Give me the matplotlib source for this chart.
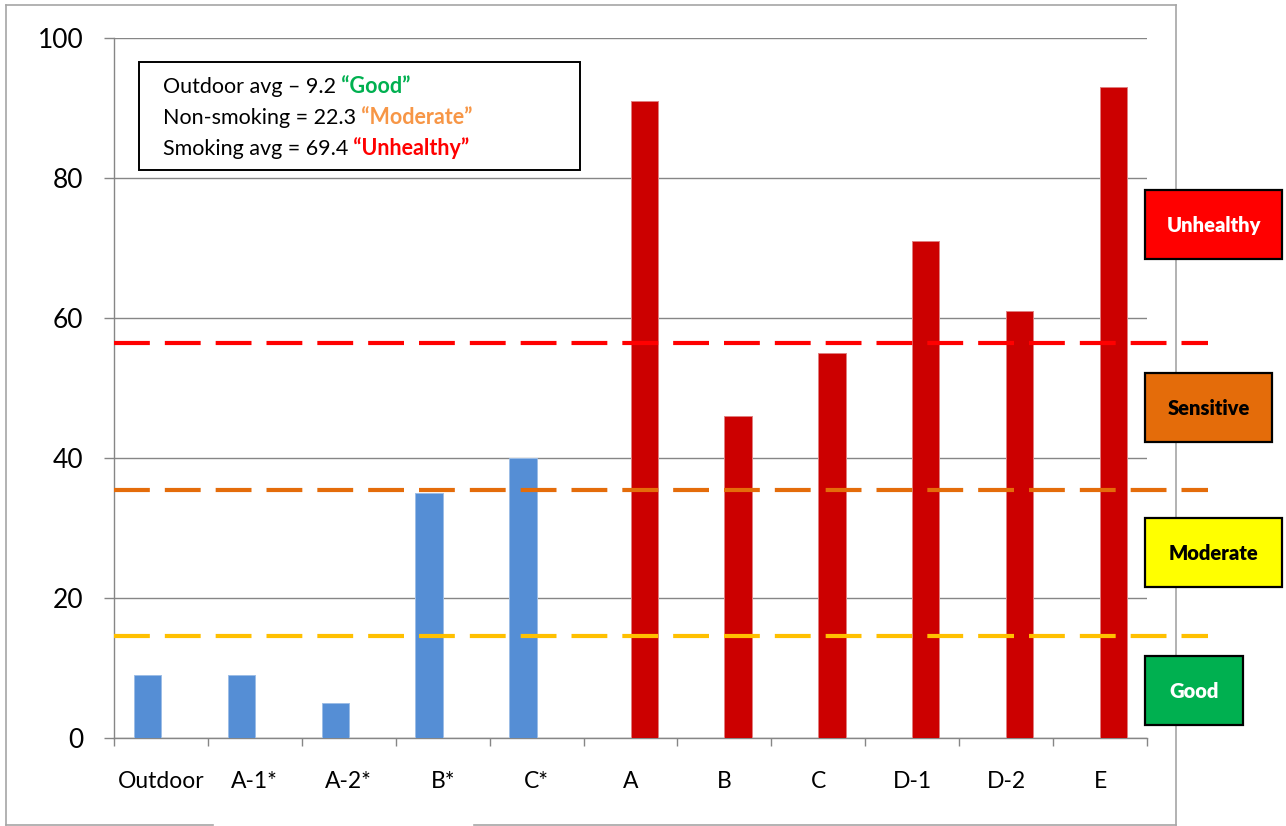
import matplotlib
matplotlib.use("Agg")
import matplotlib.pyplot as plt
from matplotlib.patches import Rectangle
from matplotlib.lines import Line2D
import numpy as np

plt.rcParams['font.family'] = ['Lato', 'DejaVu Sans']

# data
categories = ['Outdoor', 'A-1*', 'A-2*', 'B*', 'C*', 'A', 'B', 'C', 'D-1', 'D-2', 'E']
nonsmoking_cats = categories[:5]
nonsmoking_vals = [9, 9, 5, 35, 40]
smoking_cats = categories[5:]
smoking_vals = [91, 46, 55, 71, 61, 93]

# threshold lines (value, colour)
thresholds = [56.5, 35.4, 14.6]
threshold_colors = ['#FF0000', '#E46C0A', '#FFC000']

# category boxes on the right
level_names = ['Unhealthy', 'Sensitive', 'Moderate', 'Good']
level_colors = ['#FF0000', '#E46C0A', '#FFFF00', '#00B050']
level_text_colors = ['white', 'black', 'black', 'white']

# summary box lines: (plain text, highlighted text, highlight colour)
summary = [
    ('Outdoor avg \u2013 9.2', '\u201cGood\u201d', '#00B050'),
    ('Non-smoking = 22.3', '\u201cModerate\u201d', '#F79646'),
    ('Smoking avg = 69.4', '\u201cUnhealthy\u201d', '#FF0000'),
]

W, H = 1286, 826
fig = plt.figure(figsize=(W / 100, H / 100), dpi=100)


def fx(px):
    return px / W


def fy(py):
    return 1 - py / H


ax = fig.add_axes([fx(114), fy(738), fx(1147) - fx(114), fy(38) - fy(738)])

xpos = {c: i for i, c in enumerate(categories)}
bw = 0.29
grey = '#868686'

ax.bar([xpos[c] - bw / 2 for c in nonsmoking_cats], nonsmoking_vals, width=bw,
       color='#558ED5', edgecolor='#9CBDE6', linewidth=0.7, zorder=3)
ax.bar([xpos[c] + bw / 2 for c in smoking_cats], smoking_vals, width=bw,
       color='#CC0000', edgecolor='#E08080', linewidth=0.7, zorder=3)

ax.set_xlim(-0.5, len(categories) - 0.5)
ax.set_ylim(0, 100)
ax.set_yticks([0, 20, 40, 60, 80, 100])
ax.yaxis.grid(True, color=grey, linewidth=1.0, zorder=0)
ax.set_axisbelow(True)

for s in ['top', 'right']:
    ax.spines[s].set_visible(False)
for s in ['left', 'bottom']:
    ax.spines[s].set_color(grey)
    ax.spines[s].set_linewidth(1.0)

ax.tick_params(axis='y', direction='out', length=7, width=1, color=grey,
               labelsize=19, pad=15)
ax.set_xticks(range(len(categories)))
ax.set_xticklabels(categories)
ax.set_xticks(np.arange(-0.5, len(categories), 1.0), minor=True)
ax.tick_params(axis='x', which='major', length=0, labelsize=16.5, pad=24)
ax.tick_params(axis='x', which='minor', direction='out', length=6, width=1, color=grey)

# dashed thresholds running past the right edge
for val, col in zip(thresholds, threshold_colors):
    ax.plot([-0.5, 11.15], [val, val], color=col, lw=3, dashes=(8.6, 3.6),
            clip_on=False, zorder=4)

# outer frame with the gap at the bottom
frame_kw = dict(color='#A6A6A6', lw=1.2, transform=fig.transFigure, zorder=0)
fig.add_artist(Line2D([fx(6), fx(6)], [fy(5), fy(825)], **frame_kw))
fig.add_artist(Line2D([fx(6), fx(1176)], [fy(5), fy(5)], **frame_kw))
fig.add_artist(Line2D([fx(1176), fx(1176)], [fy(5), fy(825)], **frame_kw))
fig.add_artist(Line2D([fx(6), fx(213)], [fy(825), fy(825)], **frame_kw))
fig.add_artist(Line2D([fx(474), fx(1176)], [fy(825), fy(825)], **frame_kw))

# level boxes
box_px = [(1145, 190, 1282, 259), (1145, 373, 1272, 442),
          (1145, 518, 1282, 587), (1145, 656, 1243, 725)]
for (x0, y0, x1, y1), name, fc, tc in zip(box_px, level_names, level_colors, level_text_colors):
    fig.add_artist(Rectangle((fx(x0), fy(y1)), fx(x1) - fx(x0), fy(y0) - fy(y1),
                             transform=fig.transFigure, facecolor=fc,
                             edgecolor='black', linewidth=1.6, zorder=5))
    fig.text(fx((x0 + x1) / 2), fy((y0 + y1) / 2 + 1), name, color=tc,
             fontsize=14.5, fontweight='heavy', ha='center', va='center', zorder=6)

# summary box
fig.add_artist(Rectangle((fx(139), fy(170)), fx(580) - fx(139), fy(62) - fy(170),
                         transform=fig.transFigure, facecolor='white',
                         edgecolor='black', linewidth=1.4, zorder=5))
line_y = [87, 118, 149]
renderer = fig.canvas.get_renderer()
for (plain, hl, col), y in zip(summary, line_y):
    t = fig.text(fx(163), fy(y + 6), plain, fontsize=15.5, color='black',
                 ha='left', va='baseline', zorder=6)
    ext = t.get_window_extent(renderer)
    fig.text(ext.x1 / W, fy(y + 6), ' ' + hl, fontsize=15.5, color=col,
             fontweight='bold', ha='left', va='baseline', zorder=6)

fig.savefig('out.png', dpi=100)
